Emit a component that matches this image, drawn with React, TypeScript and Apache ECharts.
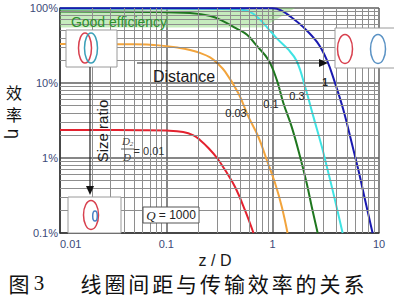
import React, { useEffect, useRef } from 'react';
import * as echarts from 'echarts';

// ---- data ----
const xTickLabels = ['0.01', '0.1', '1', '10'];
const yTickLabels = ['0.1%', '1%', '10%', '100%'];
const ratioNames = ['0.01', '0.03', '0.1', '0.3', '1'];
const ratioColors = ['#e3222f', '#f2a43c', '#1f771f', '#3fe3e3', '#1a1ab0'];

// [z/D, efficiency %]
const curveRatio001 = [
  [0.01, 2.37], [0.06, 2.35], [0.1, 2.32], [0.144, 2.22], [0.18, 2.0], [0.207, 1.74],
  [0.25, 1.35], [0.3, 1.0], [0.357, 0.69], [0.443, 0.41], [0.55, 0.2], [0.66, 0.1],
];
const curveRatio003 = [
  [0.01, 33], [0.05, 32.8], [0.09, 31.5], [0.13, 29.5], [0.167, 27.5], [0.21, 25],
  [0.258, 22], [0.3, 18.5], [0.357, 14.2], [0.476, 7.3], [0.591, 3.56], [0.733, 1.92],
  [0.88, 0.94], [1.054, 0.46], [1.218, 0.224], [1.38, 0.1],
];
const curveRatio01 = [
  [0.01, 90], [0.07, 88.5], [0.167, 85.5], [0.26, 78], [0.341, 67], [0.45, 54],
  [0.574, 44], [0.7, 32], [0.912, 20.3], [1.093, 11], [1.26, 5.4], [1.51, 2.6],
  [1.81, 1.04], [2.09, 0.46], [2.33, 0.224], [2.65, 0.1],
];
const curveRatio03 = [
  [0.01, 98.5], [0.2, 98], [0.45, 96.5], [0.6, 90], [0.76, 70], [0.92, 52], [1.1, 39],
  [1.4, 28], [1.686, 19.5], [2.018, 8.9], [2.415, 3.56], [2.897, 1.42], [3.23, 0.77],
  [3.72, 0.34], [4.55, 0.1],
];
const curveRatio1 = [
  [0.01, 99.5], [0.5, 99.5], [1.0, 99], [1.2, 93], [1.45, 78], [1.93, 56], [2.62, 35],
  [3.23, 20.3], [3.87, 9.9], [4.62, 4.4], [5.55, 1.57], [6.4, 0.69], [7.4, 0.275], [8.7, 0.1],
];
const curves = [curveRatio001, curveRatio003, curveRatio01, curveRatio03, curveRatio1];

// "Good efficiency" region (z/D, %)
const goodRegion = [[0.01, 100], [1.63, 100], [0.81, 55], [0.01, 55]];

// log grid helpers
const minorSteps = [2, 3, 4, 5, 6, 7, 8, 9];
const xDecades = [0.01, 0.1, 1];
const yDecades = [0.1, 1, 10];

const captionHead = ['图', '3'];
const captionBody = '线圈间距与传输效率的关系';

const SANS = '"Liberation Sans", Arial, sans-serif';
const SERIF = '"Liberation Serif", serif';
const CJK = '"Noto Sans CJK SC", sans-serif';

function decadeIndex(v: number) {
  return Math.round(Math.log10(v));
}

export default function App() {
  const ref = useRef<HTMLDivElement>(null);

  useEffect(() => {
    if (!ref.current) return;
    const chart = echarts.init(ref.current, undefined, { renderer: 'svg' });

    const xMinor = xDecades.flatMap((d) => minorSteps.map((m) => +(d * m).toPrecision(3)));
    const yMinor = yDecades.flatMap((d) => minorSteps.map((m) => +(d * m).toPrecision(3)));

    const txt = (text: string, x: number, y: number, font: string, fill = '#222', extra: any = {}) => ({
      type: 'text',
      x,
      y,
      z: 100,
      silent: true,
      ...extra,
      style: { text, font, fill, align: 'center', verticalAlign: 'middle', ...(extra.style || {}) },
    });

    const graphics: any[] = [
      // y-axis name
      txt('效', 14, 92, '16px ' + CJK, '#111'),
      txt('率', 14, 114, '16px ' + CJK, '#111'),
      txt('η', 14, 134, '17px "DejaVu Sans", sans-serif', '#111', { rotation: -Math.PI / 2 }),
      // x-axis name
      txt('z / D', 215, 260, '16px ' + SANS, '#1a1a1a'),
      // Good efficiency
      txt('Good efficiency', 119, 22, '14px ' + SANS, '#2f8f2f'),
      // Distance arrow
      { type: 'line', z: 100, silent: true, shape: { x1: 137, y1: 63, x2: 321, y2: 63 }, style: { stroke: '#222', lineWidth: 1.2 } },
      { type: 'polygon', z: 100, silent: true, shape: { points: [[319, 59], [319, 67], [328, 63]] }, style: { fill: '#111' } },
      txt('Distance', 184, 76, '16px ' + SANS, '#1a1a1a'),
      // curve labels
      txt('0.03', 236, 113, '11px ' + SANS, '#222'),
      txt('0.1', 271, 104, '11px ' + SANS, '#222'),
      txt('0.3', 297, 96, '11px ' + SANS, '#222'),
      txt('1', 325, 82, 'bold 10px ' + SANS, '#222'),
      // top-left inset
      { type: 'rect', z: 100, silent: true, shape: { x: 66, y: 30, width: 51, height: 37 }, style: { fill: '#fff', stroke: '#9a9a9a', lineWidth: 1 } },
      { type: 'ellipse', z: 101, silent: true, shape: { cx: 85, cy: 48, rx: 6.5, ry: 15 }, style: { fill: 'none', stroke: '#d8404e', lineWidth: 1.5 } },
      { type: 'ellipse', z: 101, silent: true, shape: { cx: 91, cy: 48, rx: 6.5, ry: 15 }, style: { fill: 'none', stroke: '#3aa0b8', lineWidth: 1.5 } },
      // size ratio arrow
      { type: 'line', z: 100, silent: true, shape: { x1: 90, y1: 67, x2: 90, y2: 188 }, style: { stroke: '#222', lineWidth: 1.2 } },
      { type: 'polygon', z: 100, silent: true, shape: { points: [[86, 186], [94, 186], [90, 195]] }, style: { fill: '#111' } },
      txt('Size ratio', 102, 131, '15px ' + SANS, '#1a1a1a', { rotation: Math.PI / 2 }),
      // D2/D = 0.01
      txt('D', 126, 141, 'italic 11px ' + SERIF, '#444'),
      txt('2', 131.5, 144, 'italic 7px ' + SERIF, '#444'),
      { type: 'line', z: 100, silent: true, shape: { x1: 121, y1: 149, x2: 134, y2: 149 }, style: { stroke: '#555', lineWidth: 1 } },
      txt('D', 127, 157, 'italic 11px ' + SERIF, '#444'),
      txt('= 0.01', 149, 151, '11px ' + SANS, '#333'),
      // bottom-left inset
      { type: 'rect', z: 100, silent: true, shape: { x: 68, y: 197, width: 53, height: 36 }, style: { fill: '#fff', stroke: '#9a9a9a', lineWidth: 1 } },
      { type: 'ellipse', z: 101, silent: true, shape: { cx: 91, cy: 215, rx: 7.5, ry: 14.5 }, style: { fill: 'none', stroke: '#d8404e', lineWidth: 1.5 } },
      { type: 'ellipse', z: 101, silent: true, shape: { cx: 95, cy: 216, rx: 2.3, ry: 5 }, style: { fill: 'none', stroke: '#4a80c4', lineWidth: 1.5 } },
      // Q = 1000 box
      { type: 'rect', z: 100, silent: true, shape: { x: 143, y: 207, width: 56, height: 16 }, style: { fill: '#fff', stroke: '#555', lineWidth: 1 } },
      {
        type: 'text', z: 101, silent: true, x: 171, y: 215,
        style: {
          text: '{q|Q} = 1000', font: '12px ' + SANS, fill: '#222', align: 'center', verticalAlign: 'middle',
          rich: { q: { fontStyle: 'italic', fontFamily: 'Liberation Serif', fontSize: 13, fill: '#222' } },
        },
      },
      // right inset
      { type: 'rect', z: 100, silent: true, shape: { x: 335, y: 28, width: 62, height: 40 }, style: { fill: '#fff', stroke: '#9a9a9a', lineWidth: 1 } },
      { type: 'ellipse', z: 101, silent: true, shape: { cx: 345, cy: 49, rx: 7.5, ry: 14.5 }, style: { fill: 'none', stroke: '#d8404e', lineWidth: 1.5 } },
      { type: 'ellipse', z: 101, silent: true, shape: { cx: 378, cy: 49, rx: 7.5, ry: 14.5 }, style: { fill: 'none', stroke: '#5a92c4', lineWidth: 1.5 } },
    ];
    // caption
    graphics.push(txt(captionHead[0], 19, 283, '21px ' + CJK, '#111'));
    graphics.push(txt(captionHead[1], 39, 283, '21px ' + SERIF, '#111'));
    captionBody.split('').forEach((ch, i) => {
      graphics.push(txt(ch, 91 + i * 23.9, 283, '21px ' + CJK, '#111'));
    });

    const axisLabelColor = '#3c4a78';

    chart.setOption({
      animation: false,
      backgroundColor: '#fff',
      grid: { left: 60, top: 8, width: 319, height: 225, containLabel: false },
      xAxis: {
        type: 'log',
        logBase: 10,
        min: 0.01,
        max: 10,
        axisLine: { show: true, lineStyle: { color: '#333', width: 1.5 } },
        axisTick: { show: false },
        axisLabel: {
          color: axisLabelColor,
          fontSize: 11,
          fontFamily: 'Liberation Sans',
          margin: 5,
          alignMinLabel: 'left',
          formatter: (v: number) => xTickLabels[decadeIndex(v) + 2] ?? '',
        },
        splitLine: { show: true, lineStyle: { color: '#5f5f5f', width: 1.5 } },
      },
      yAxis: {
        type: 'log',
        logBase: 10,
        min: 0.1,
        max: 100,
        axisLine: { show: true, lineStyle: { color: '#333', width: 1.5 } },
        axisTick: { show: false },
        axisLabel: {
          color: axisLabelColor,
          fontSize: 11,
          fontFamily: 'Liberation Sans',
          margin: 2,
          formatter: (v: number) => yTickLabels[decadeIndex(v) + 1] ?? '',
        },
        splitLine: { show: true, lineStyle: { color: '#5f5f5f', width: 1.5 } },
      },
      series: [
        {
          type: 'custom',
          name: 'good',
          z: 1,
          silent: true,
          data: goodRegion,
          encode: { x: 0, y: 1 },
          renderItem: (params: any, api: any) => {
            if (params.dataIndex !== 0) return null;
            const pts = goodRegion.map((p) => api.coord(p));
            return {
              type: 'polygon',
              shape: { points: pts },
              style: { fill: 'rgba(120,210,100,0.42)' },
            };
          },
        },
        {
          type: 'line',
          name: 'minorGrid',
          data: [],
          z: 1,
          silent: true,
          markLine: {
            silent: true,
            symbol: ['none', 'none'],
            label: { show: false },
            emphasis: { disabled: true },
            lineStyle: { color: '#8e8e8e', width: 1, type: 'solid' },
            data: [...xMinor.map((v) => ({ xAxis: v })), ...yMinor.map((v) => ({ yAxis: v }))],
          },
        },
        ...curves.map((data, i) => ({
          type: 'line',
          name: ratioNames[i],
          data,
          smooth: 0.4,
          showSymbol: false,
          symbol: 'none',
          silent: true,
          z: 3,
          lineStyle: { color: ratioColors[i], width: 2 },
        })),
      ],
      graphic: { elements: graphics },
    });

    return () => chart.dispose();
  }, []);

  return (
    <div
      ref={ref}
      style={{ position: 'absolute', left: 0, top: 0, width: 394, height: 306, background: '#fff' }}
    />
  );
}
